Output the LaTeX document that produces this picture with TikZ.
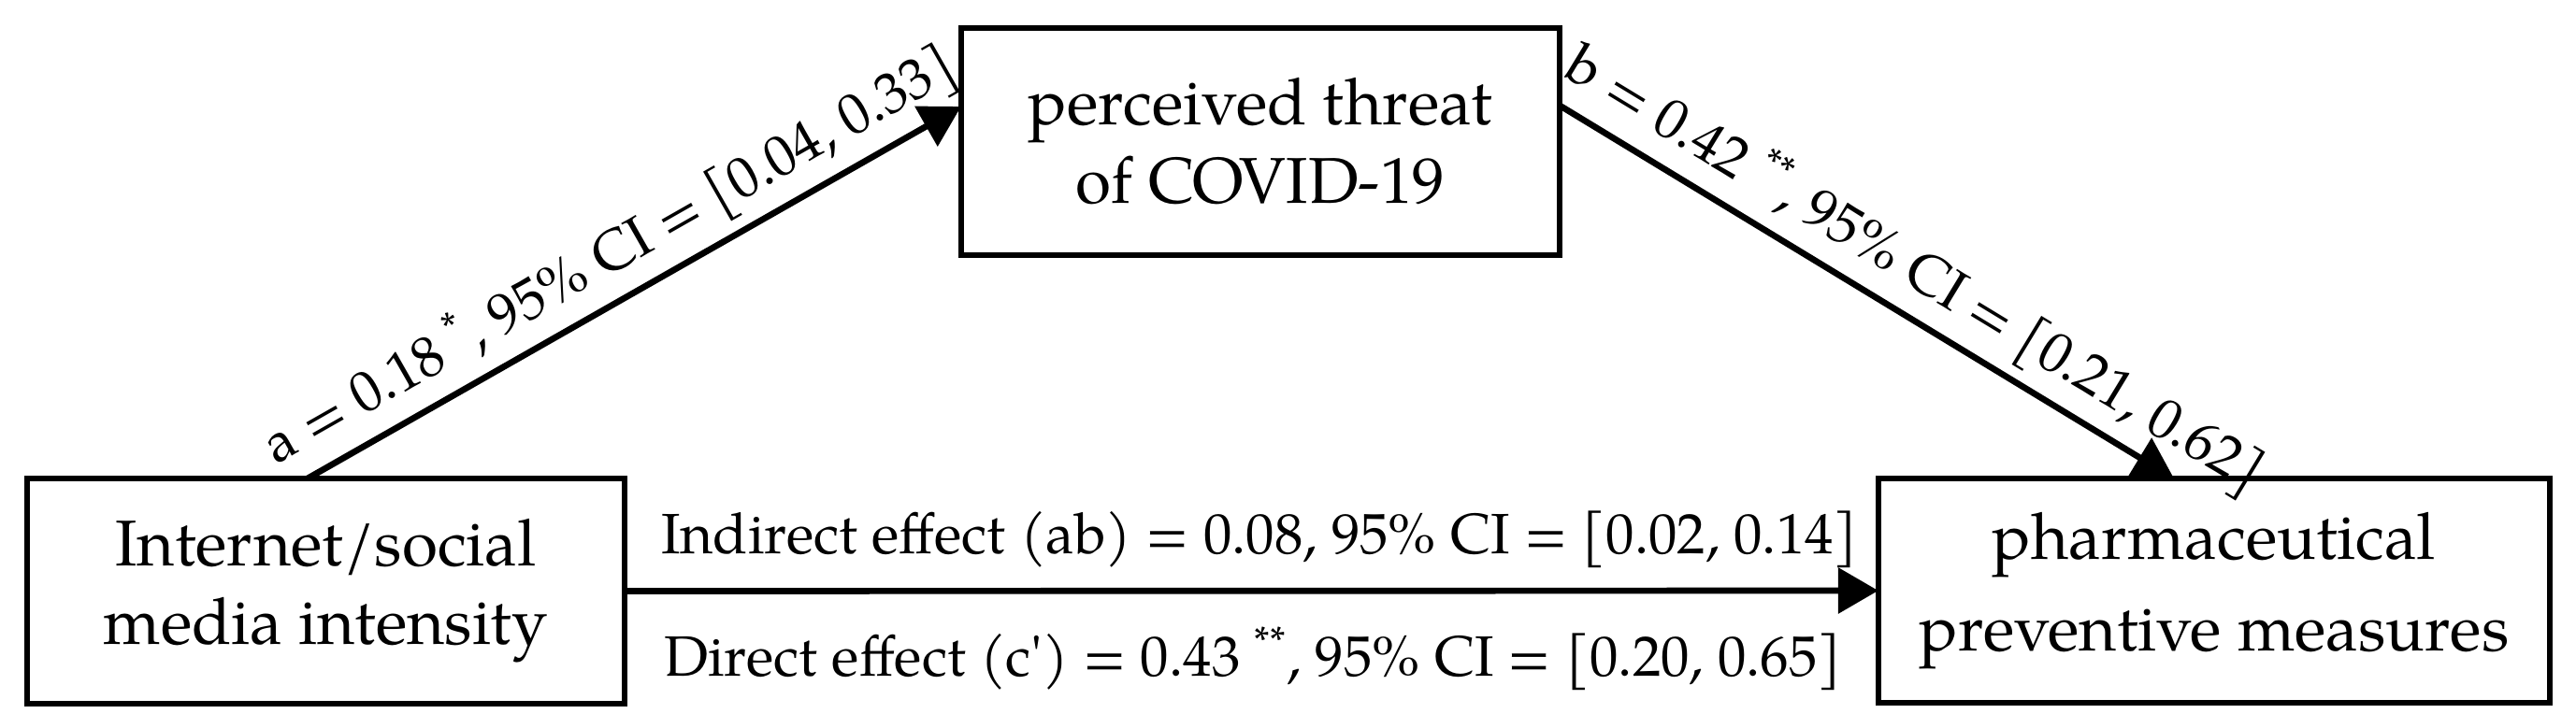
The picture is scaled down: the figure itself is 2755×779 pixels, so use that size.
\documentclass[tikz,border=0pt]{standalone}
\usepackage{fontspec}
\setmainfont{TeX Gyre Pagella}
\usetikzlibrary{arrows.meta}
\begin{document}
\begin{tikzpicture}[x=0.01cm,y=-0.01cm,
  box/.style={draw, line width=1.7pt, rectangle, outer sep=0pt, inner sep=0pt, align=center, font=\fontsize{19.7}{23.9}\selectfont},
  conn/.style={line width=1.9pt, -{Triangle[length=4.3mm,width=4.8mm]}},
  lab/.style={font=\fontsize{17.3}{20}\selectfont, inner sep=0pt}]
\useasboundingbox (0,0) rectangle (2755,779);
\node[box, minimum width=6.39cm, minimum height=2.41cm] (L) at (348.5,632.5) {Internet/social\\media intensity};
\node[box, minimum width=6.40cm, minimum height=2.43cm] (T) at (1348,151.5) {perceived threat\\of COVID-19};
\node[box, minimum width=7.18cm, minimum height=2.40cm, font=\fontsize{19.7}{28}\selectfont] (R) at (2368,632) {pharmaceutical\\preventive measures};
\draw[conn] ([xshift=3cm]L.north west) -- ([yshift=0.375cm]T.west)
  node[lab, sloped, pos=0.495, anchor=base, yshift=0.29cm] (la) {a = 0.18 \textsuperscript{*}, 95\% CI = [0.04, 0.33]};
\draw[conn] ([yshift=0.385cm]T.east) -- ([xshift=3.16cm]R.north west)
  node[lab, sloped, pos=0.54, anchor=base, yshift=0.29cm] (lb) {b = 0.42 \textsuperscript{**}, 95\% CI = [0.21, 0.62]};
\draw[conn] (L.east) -- (R.west);
\node[lab, anchor=base] (li) at (1347,592) {Indirect effect (ab) = 0.08, 95\% CI = [0.02, 0.14]};
\node[lab, anchor=base] (ld) at (1340,723) {Direct effect (c\textquotesingle) = 0.43 \textsuperscript{**}, 95\% CI = [0.20, 0.65]};
\end{tikzpicture}
\end{document}
